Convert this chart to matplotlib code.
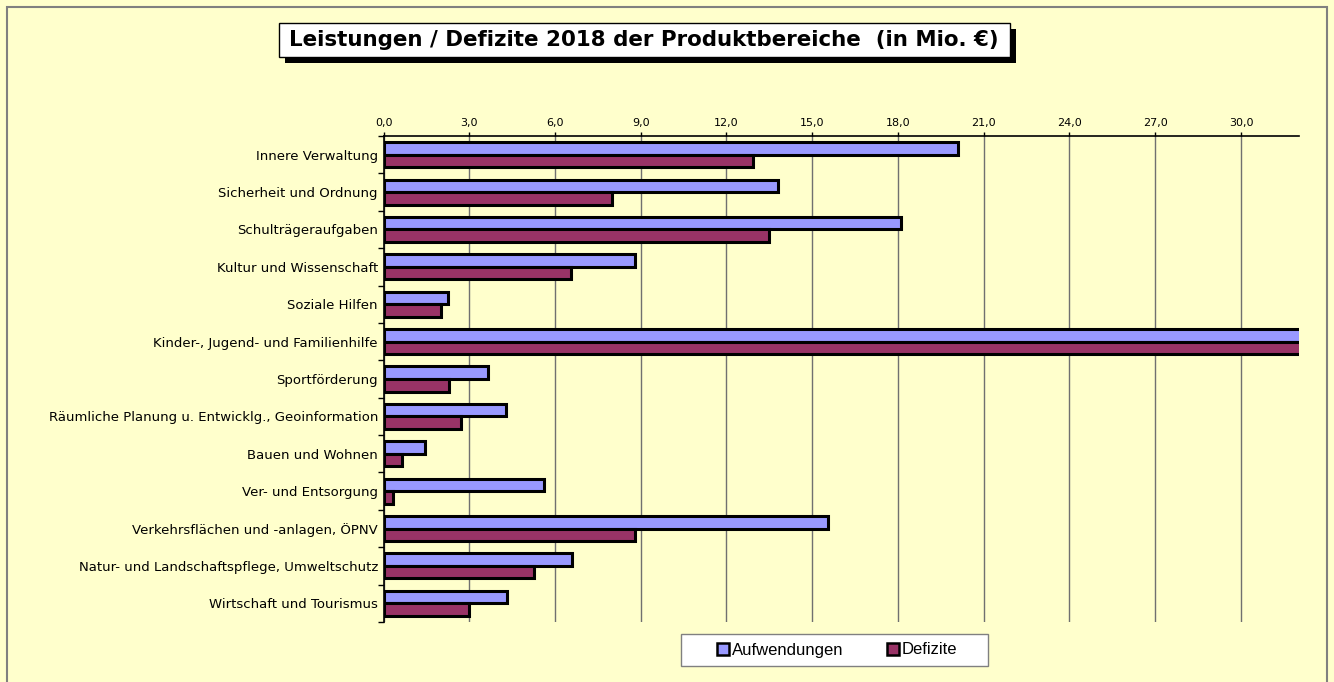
import matplotlib
matplotlib.use("Agg")
import matplotlib.pyplot as plt
from matplotlib.patches import Rectangle, Patch
from matplotlib.ticker import FixedLocator, FuncFormatter
import numpy as np

categories = [
    "Innere Verwaltung",
    "Sicherheit und Ordnung",
    "Schulträgeraufgaben",
    "Kultur und Wissenschaft",
    "Soziale Hilfen",
    "Kinder-, Jugend- und Familienhilfe",
    "Sportförderung",
    "Räumliche Planung u. Entwicklg., Geoinformation",
    "Bauen und Wohnen",
    "Ver- und Entsorgung",
    "Verkehrsflächen und -anlagen, ÖPNV",
    "Natur- und Landschaftspflege, Umweltschutz",
    "Wirtschaft und Tourismus",
]
aufwendungen = [20.1, 13.8, 18.1, 8.8, 2.26, 45.0, 3.66, 4.29, 1.44, 5.62, 15.54, 6.58, 4.32]
defizite = [12.94, 8.0, 13.5, 6.56, 2.0, 40.0, 2.28, 2.71, 0.66, 0.32, 8.8, 5.25, 3.0]
xticks = [0, 3, 6, 9, 12, 15, 18, 21, 24, 27, 30]
title = "Leistungen / Defizite 2018 der Produktbereiche  (in Mio. €)"
series_names = ["Aufwendungen", "Defizite"]

BG = "#FFFFCC"
C_A = "#9999FF"
C_D = "#993366"

W, H = 1334, 682
fig = plt.figure(figsize=(W / 100, H / 100), dpi=100, facecolor=BG)

def fx(px):
    return px / W

def fy(py):
    return 1 - py / H

# outer border
fig.patches.append(Rectangle((fx(7), fy(690)), fx(1327) - fx(7), fy(7) - fy(690),
                             transform=fig.transFigure, fill=False,
                             edgecolor="#808080", linewidth=1.5, zorder=0))

ax = fig.add_axes([fx(383.5), fy(622), fx(1298.7) - fx(383.5), fy(136) - fy(622)])
ax.set_facecolor(BG)

y = np.arange(len(categories))
h = 0.335
ax.barh(y - h / 2, aufwendungen, height=h, color=C_A, edgecolor="black", linewidth=2.2, zorder=3)
ax.barh(y + h / 2, defizite, height=h, color=C_D, edgecolor="black", linewidth=2.2, zorder=3)

ax.set_xlim(0, 32.02)
ax.set_ylim(len(categories) - 0.5, -0.5)

ax.xaxis.tick_top()
ax.set_xticks(xticks)
ax.xaxis.set_major_formatter(FuncFormatter(lambda v, p: f"{v:.1f}".replace(".", ",")))
ax.tick_params(axis="x", which="major", labelsize=8, length=3, width=1, pad=3, colors="black")
ax.grid(axis="x", color="#707070", linewidth=1, zorder=1)

ax.set_yticks(y)
ax.set_yticklabels(categories)
ax.tick_params(axis="y", which="major", length=0, pad=4, labelsize=9.5)
ax.yaxis.set_minor_locator(FixedLocator(np.arange(-0.5, len(categories) + 0.5, 1)))
ax.tick_params(axis="y", which="minor", length=4, width=1)

for s in ["right", "bottom"]:
    ax.spines[s].set_visible(False)
ax.spines["top"].set_linewidth(1.2)
ax.spines["left"].set_linewidth(1.2)

# title box with shadow
fig.patches.append(Rectangle((fx(285), fy(63)), fx(1016) - fx(285), fy(29) - fy(63),
                             transform=fig.transFigure, facecolor="black", edgecolor="none", zorder=1))
fig.patches.append(Rectangle((fx(279), fy(57)), fx(1010) - fx(279), fy(23) - fy(57),
                             transform=fig.transFigure, facecolor="white", edgecolor="black",
                             linewidth=1, zorder=2))
fig.text(fx(644), fy(40.5), title, ha="center", va="center", fontsize=15.4,
         fontweight="bold", family="DejaVu Sans", zorder=3)

# legend box
fig.patches.append(Rectangle((fx(681), fy(666)), fx(988) - fx(681), fy(634) - fy(666),
                             transform=fig.transFigure, facecolor="white", edgecolor="#808080",
                             linewidth=1, zorder=1))
handles = [Patch(facecolor=C_A, edgecolor="black", linewidth=1.8),
           Patch(facecolor=C_D, edgecolor="black", linewidth=1.8)]
leg = fig.legend(handles, series_names, loc="center", bbox_to_anchor=(fx(837), fy(650)),
                 ncol=2, frameon=False, prop={"family": "Liberation Sans", "size": 12},
                 handlelength=0.75, handleheight=0.75, handletextpad=0.15, columnspacing=2.6)

fig.savefig("out.png", dpi=100, facecolor=BG)
